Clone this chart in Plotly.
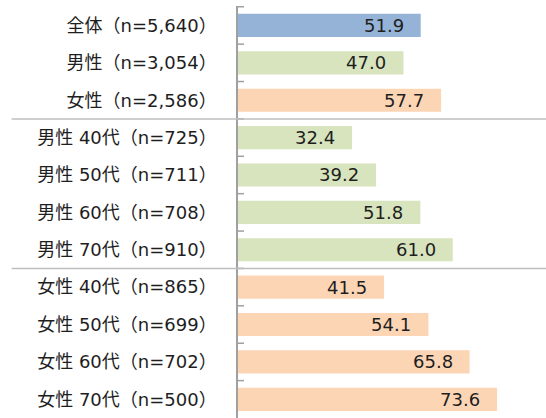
import plotly.graph_objects as go

categories = [
    "全体（n=5,640）", "男性（n=3,054）", "女性（n=2,586）",
    "男性 40代（n=725）", "男性 50代（n=711）", "男性 60代（n=708）", "男性 70代（n=910）",
    "女性 40代（n=865）", "女性 50代（n=699）", "女性 60代（n=702）", "女性 70代（n=500）",
]
values = [51.9, 47.0, 57.7, 32.4, 39.2, 51.8, 61.0, 41.5, 54.1, 65.8, 73.6]
groups = ["all", "male", "female", "male", "male", "male", "male",
          "female", "female", "female", "female"]
group_colors = {"all": "#95B3D7", "male": "#D7E4BD", "female": "#FCD5B5"}
separator_after = [2, 6]

FONT = "DejaVu Sans, Noto Sans CJK JP, sans-serif"

fig = go.Figure()
fig.add_trace(go.Bar(
    x=values, y=categories, orientation="h",
    marker=dict(color=[group_colors[g] for g in groups], line=dict(width=0)),
    width=0.62, hoverinfo="skip",
))

for c, v in zip(categories, values):
    fig.add_annotation(x=v, y=c, text=f"{v:.1f}", showarrow=False,
                       xanchor="right", xshift=-15,
                       font=dict(family=FONT, size=18, color="#1e1e1e"))

n = len(categories)
for i in range(n):
    fig.add_shape(type="line", xref="x", yref="y", xsizemode="pixel", xanchor=0,
                  x0=-6, x1=6, y0=i - 0.5, y1=i - 0.5,
                  line=dict(color="#a0a0a0", width=1.5))

for i in separator_after:
    fig.add_shape(type="line", xref="paper", yref="y",
                  x0=-0.735, x1=1.0, y0=i + 0.5, y1=i + 0.5,
                  line=dict(color="#bfbfbf", width=1.5))

fig.update_layout(
    width=546, height=418,
    margin=dict(l=238, r=0, t=6, b=0),
    plot_bgcolor="white", paper_bgcolor="white",
    showlegend=False,
    xaxis=dict(range=[0, 87.5], showgrid=False, zeroline=False,
               showticklabels=False, ticks="", showline=False, fixedrange=True),
    yaxis=dict(categoryorder="array", categoryarray=categories, autorange="reversed",
               showgrid=False, zeroline=False, showline=True,
               linecolor="#a0a0a0", linewidth=1.5, ticks="",
               ticklabelstandoff=16, fixedrange=True,
               tickfont=dict(family=FONT, size=18, color="#1e1e1e")),
)

fig.write_html("out.html", config={"displayModeBar": False},
               post_script="document.body.style.margin='0';document.body.style.overflow='hidden';")
